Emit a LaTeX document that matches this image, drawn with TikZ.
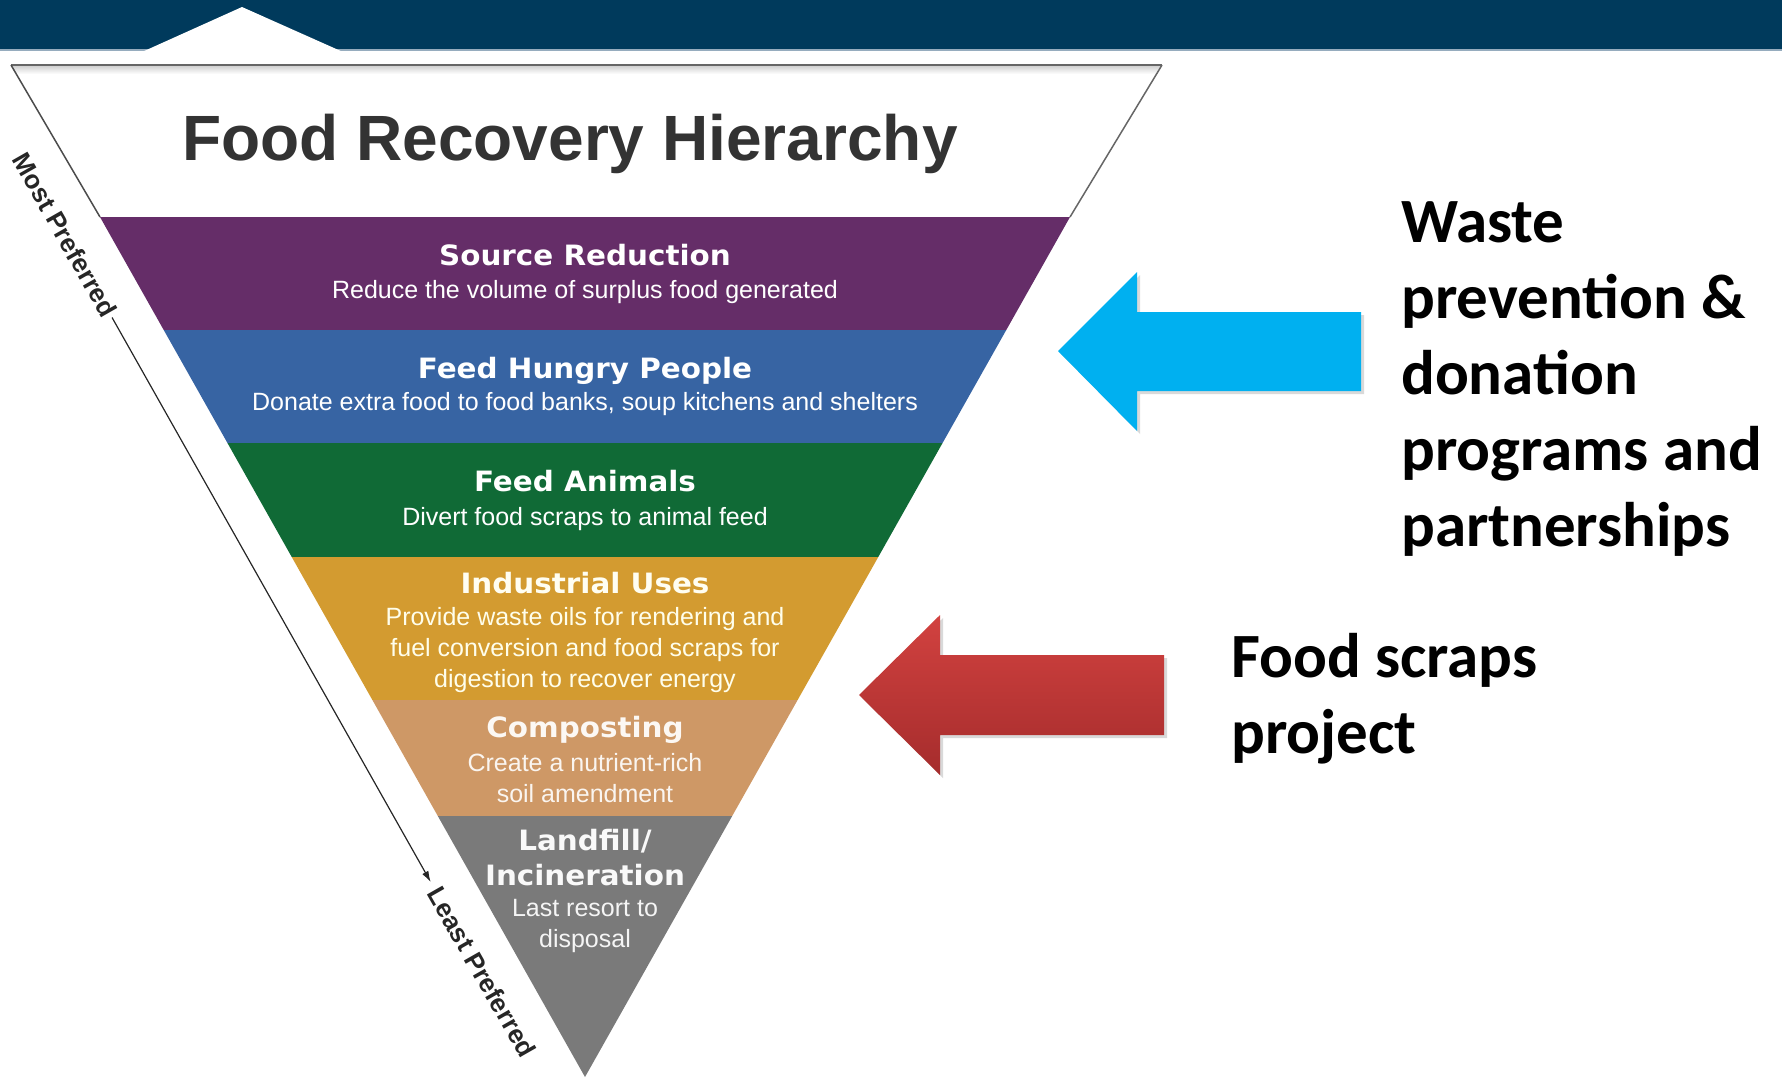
\documentclass[tikz,border=0pt]{standalone}
\usepackage{fontspec}
\setmainfont{Liberation Sans}
\newfontfamily\bandfont[FakeStretch=1.05]{DejaVu Sans}
\newfontfamily\notefont{Carlito}
\usetikzlibrary{arrows.meta,shadows}
\definecolor{barblue}{RGB}{0,58,92}
\definecolor{barline}{RGB}{150,172,190}
\definecolor{srcpurple}{RGB}{101,45,104}
\definecolor{feedblue}{RGB}{55,100,163}
\definecolor{animalgreen}{RGB}{16,106,54}
\definecolor{indgold}{RGB}{211,155,48}
\definecolor{comptan}{RGB}{206,152,102}
\definecolor{landgray}{RGB}{122,122,122}
\definecolor{arrowblue}{RGB}{0,176,240}
\definecolor{redtop}{RGB}{210,66,64}
\definecolor{redbot}{RGB}{165,44,44}
\tikzset{
  bandhead/.style={font=\bandfont\bfseries\fontsize{28}{35}\selectfont, text=white, inner sep=0pt, anchor=base, align=center},
  bandsub/.style={font=\fontsize{25}{31}\selectfont, text=white, inner sep=0pt, anchor=base, align=center},
  pref/.style={font=\bfseries\fontsize{26}{30}\selectfont, text=black!85, inner sep=0pt, rotate=-60.3},
  note/.style={font=\notefont\bfseries\fontsize{63}{76}\selectfont, inner sep=0pt, anchor=base west, align=left},
  blockarrow/.style={drop shadow={opacity=0.3, shadow xshift=3pt, shadow yshift=-3pt}},
}
\begin{document}
\begin{tikzpicture}[x=1pt,y=-1pt]
\useasboundingbox (0,0) rectangle (1782,1080);
\fill[barblue] (0,0) rectangle (1782,49);
\fill[barline] (0,49) rectangle (1782,51);
\fill[white] (142,52) -- (242,7) -- (343,52) -- cycle;

\coordinate (ftl) at (11,65);
\coordinate (ftr) at (1162,65);
\coordinate (tl) at (100,217);
\coordinate (tr) at (1070,217);
\coordinate (ap) at (585,1077);

\shade[top color=gray!35, bottom color=white] (12,66) -- (1161,66) -- (1157,74) -- (16,74) -- cycle;
\draw[black!60, line width=2.5pt] (ftl) -- (ftr);
\draw[black!70, line width=1.5pt] (ftl) -- (tl);
\draw[black!60, line width=1.5pt] (ftr) -- (tr);

\node (title) at (570,160) [anchor=base, inner sep=0pt, font=\bfseries\fontsize{64}{70}\selectfont, text=black!80] {Food Recovery Hierarchy};

\begin{scope}
\clip (tl) -- (tr) -- (ap) -- cycle;
\fill[srcpurple] (0,217) rectangle (1200,330);
\fill[feedblue] (0,330) rectangle (1200,443);
\fill[animalgreen] (0,443) rectangle (1200,557);
\fill[indgold] (0,557) rectangle (1200,700);
\fill[comptan] (0,700) rectangle (1200,816);
\fill[landgray] (0,816) rectangle (1200,1080);
\end{scope}

\node[bandhead] (srch) at (585,265) {Source Reduction};
\node[bandsub] (srcs) at (585,298) {Reduce the volume of surplus food generated};
\node[bandhead] (feedh) at (585,378) {Feed Hungry People};
\node[bandsub] (feeds) at (585,410) {Donate extra food to food banks, soup kitchens and shelters};
\node[bandhead] (animh) at (585,491) {Feed Animals};
\node[bandsub] (anims) at (585,525) {Divert food scraps to animal feed};
\node[bandhead, text=white!95!yellow] (indh) at (585,593) {Industrial Uses};
\node[bandsub, text=white!92!yellow] (inds) at (585,687) {Provide waste oils for rendering and\\fuel conversion and food scraps for\\digestion to recover energy};
\node[bandhead, text=white!93!comptan] (comph) at (585,737) {Composting};
\node[bandsub, text=white!90!comptan] (comps) at (585,802) {Create a nutrient-rich\\soil amendment};
\node[bandhead, text=white!95!gray] (landh) at (585,885) {Landfill/\\Incineration};
\node[bandsub, text=white!92!gray] (lands) at (585,947) {Last resort to\\disposal};

\node[pref] (most) at (65,235) {Most Preferred};
\node[pref] (least) at (482,972) {Least Preferred};
\draw[black!85, line width=1.2pt, -{Latex[length=11pt,width=7pt]}, shorten <=3pt, shorten >=8pt] (most.east) -- (least.west);

\fill[arrowblue, blockarrow] (1058,351) -- (1137,272) -- (1137,312) -- (1361,312) -- (1361,391) -- (1137,391) -- (1137,431) -- cycle;
\shade[top color=redtop, bottom color=redbot, blockarrow] (859,695) -- (940,615) -- (940,655) -- (1164,655) -- (1164,735) -- (940,735) -- (940,775) -- cycle;

\node[note] (waste) at (1401,546) {Waste\\prevention \&\\donation\\programs and\\partnerships};
\node[note] (scraps) at (1231,753) {Food scraps\\project};
\end{tikzpicture}
\end{document}
